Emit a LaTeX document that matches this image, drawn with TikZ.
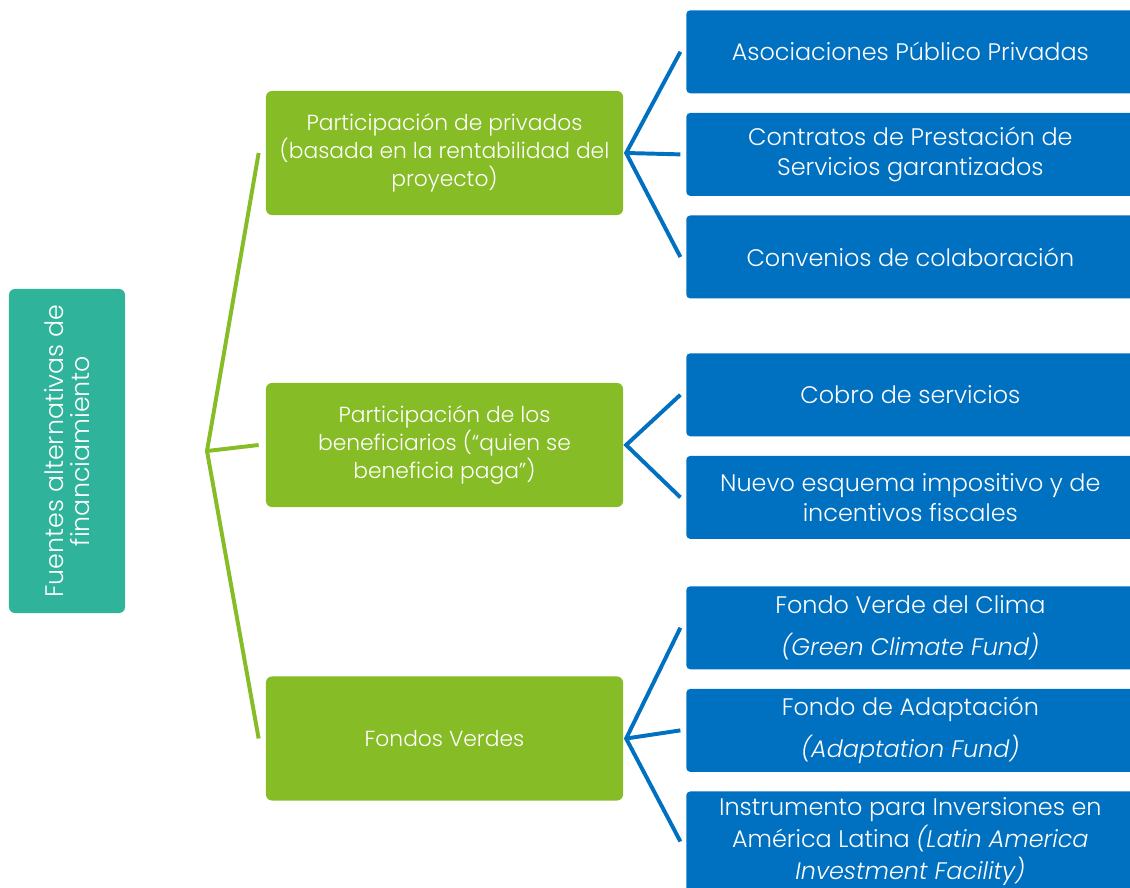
\documentclass[tikz,border=0pt]{standalone}
\usepackage{fontspec}
\setmainfont{Poppins Light}
\usetikzlibrary{positioning}
\definecolor{tealbox}{HTML}{2FB39B}
\definecolor{leafgreen}{HTML}{86BC25}
\definecolor{oceanblue}{HTML}{0070C0}

\begin{document}
\begin{tikzpicture}[x=0.025cm, y=-0.025cm, node distance=0.475cm,
  every node/.style={font=\fontsize{17}{21.3}\selectfont, text=white, align=center},
  source/.style={fill=tealbox, rounded corners=0.15cm, rotate=90, minimum width=8.1cm, minimum height=2.9cm, inner sep=2pt, font=\fontsize{18}{18.5}\selectfont},
  rama/.style={fill=leafgreen, rounded corners=0.15cm, minimum width=8.925cm, minimum height=3.1cm, inner sep=2pt, font=\fontsize{15.5}{20}\selectfont},
  opcion/.style={fill=oceanblue, rounded corners=0.1cm, minimum width=11.2cm, minimum height=2.075cm, inner sep=2pt},
  greenlink/.style={draw=leafgreen, line width=2.8pt},
  bluelink/.style={draw=oceanblue, line width=2.8pt}]
\useasboundingbox (0,0) rectangle (1130,887);
% fuente principal
\node[source] (fuentes) at (67,451) {Fuentes alternativas de\\financiamiento};
% ramas
\node[rama] (privados) at (444.5,153) {Participación de privados\\(basada en la rentabilidad del\\proyecto)};
\node[rama] (beneficiarios) at (444.5,445) {Participación de los\\beneficiarios (“quien se\\beneficia paga”)};
\node[rama] (fondos) at (444.5,738.5) {Fondos Verdes};
% opciones
\node[opcion, anchor=north west] (app) at (686,10) {Asociaciones Público Privadas};
\node[opcion, below=of app] (cps) {Contratos de Prestación de\\Servicios garantizados};
\node[opcion, below=of cps] (convenios) {Convenios de colaboración};
\node[opcion, anchor=north west] (cobro) at (686,353) {Cobro de servicios};
\node[opcion, below=of cobro] (impuestos) {Nuevo esquema impositivo y de\\incentivos fiscales};
\node[opcion, anchor=north west] (fvc) at (686,586) {Fondo Verde del Clima\\[0.3cm]\textit{(Green Climate Fund)}};
\node[opcion, below=of fvc] (adaptacion) {Fondo de Adaptación\\[0.3cm]\textit{(Adaptation Fund)}};
\node[opcion, below=of adaptacion, minimum height=2.5cm, font=\fontsize{17}{22.5}\selectfont] (laif) {Instrumento para Inversiones en\\América Latina \textit{(Latin America}\\\textit{Investment Facility)}};
% conectores
\coordinate (raiz) at (207,451);
\draw[greenlink] ([xshift=-5pt]privados.west) -- (raiz) -- ([xshift=-5pt]fondos.west);
\draw[greenlink] (raiz) -- ([xshift=-5pt]beneficiarios.west);
\draw[bluelink] ([xshift=-4pt]app.west) -- ([xshift=2pt]privados.east) -- ([xshift=-4pt]convenios.west);
\draw[bluelink] ([xshift=2pt]privados.east) -- ([xshift=-4pt]cps.west);
\draw[bluelink] ([xshift=-4pt]cobro.west) -- ([xshift=2pt]beneficiarios.east) -- ([xshift=-4pt]impuestos.west);
\draw[bluelink] ([xshift=-4pt]fvc.west) -- ([xshift=2pt]fondos.east) -- ([xshift=-4pt]laif.west);
\draw[bluelink] ([xshift=2pt]fondos.east) -- ([xshift=-4pt]adaptacion.west);
\end{tikzpicture}
\end{document}
